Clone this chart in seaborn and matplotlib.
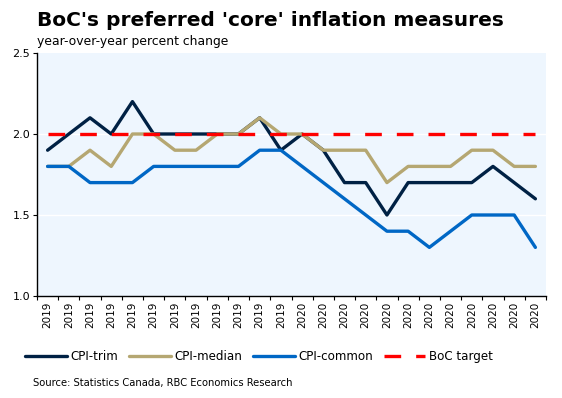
import numpy as np
import pandas as pd
import matplotlib
matplotlib.use("Agg")
import matplotlib.pyplot as plt
import seaborn as sns

tick_labels = ["2019"] * 12 + ["2020"] * 12
cpi_trim = [1.9, 2.0, 2.1, 2.0, 2.2, 2.0, 2.0, 2.0, 2.0, 2.0, 2.1, 1.9,
            2.0, 1.9, 1.7, 1.7, 1.5, 1.7, 1.7, 1.7, 1.7, 1.8, 1.7, 1.6]
cpi_median = [1.8, 1.8, 1.9, 1.8, 2.0, 2.0, 1.9, 1.9, 2.0, 2.0, 2.1, 2.0,
              2.0, 1.9, 1.9, 1.9, 1.7, 1.8, 1.8, 1.8, 1.9, 1.9, 1.8, 1.8]
cpi_common = [1.8, 1.8, 1.7, 1.7, 1.7, 1.8, 1.8, 1.8, 1.8, 1.8, 1.9, 1.9,
              1.8, 1.7, 1.6, 1.5, 1.4, 1.4, 1.3, 1.4, 1.5, 1.5, 1.5, 1.3]
boc_target = [2.0] * 24

sns.set_theme(style="white")
plt.rcParams['font.family'] = ['DejaVu Sans']
plt.rcParams['text.color'] = 'black'
plt.rcParams['xtick.color'] = 'black'
plt.rcParams['ytick.color'] = 'black'

fig = plt.figure(figsize=(5.62, 3.98), dpi=100)
ax = fig.add_axes([37/562, 1-296/398, (546-37)/562, (296-53)/398])
ax.set_facecolor("#EEF6FE")

x = np.arange(len(tick_labels))
df = pd.DataFrame({"x": x, "CPI-trim": cpi_trim, "CPI-median": cpi_median,
                   "CPI-common": cpi_common, "BoC target": boc_target})

for y in [1.5, 2.0]:
    ax.axhline(y, color="white", lw=1.0, zorder=1)

sns.lineplot(data=df, x="x", y="CPI-trim", ax=ax, color="#002144", lw=2.4,
             label="CPI-trim", zorder=3)
sns.lineplot(data=df, x="x", y="CPI-median", ax=ax, color="#B5A772", lw=2.4,
             label="CPI-median", zorder=3)
sns.lineplot(data=df, x="x", y="CPI-common", ax=ax, color="#0067C5", lw=2.4,
             label="CPI-common", zorder=3)
sns.lineplot(data=df, x="x", y="BoC target", ax=ax, color="#FF0000", lw=2.4,
             label="BoC target", zorder=4, dashes=False)
ax.lines[-1].set_dashes((5, 4.5))

ax.set_xlim(-0.5, len(x) - 0.5)
ax.set_ylim(1.0, 2.5)
ax.set_yticks([1.0, 1.5, 2.0, 2.5])
ax.set_yticklabels(["1.0", "1.5", "2.0", "2.5"], fontsize=8)
ax.set_xticks(x)
ax.set_xticklabels(tick_labels, rotation=90, fontsize=7.5)
ax.set_xticks(np.arange(-0.5, len(x)), minor=True)
ax.tick_params(axis="x", which="major", length=0, pad=4)
ax.tick_params(axis="x", which="minor", length=3, width=0.8, color="black", bottom=True)
ax.tick_params(axis="y", length=3, width=0.8, color="black", left=True, pad=2)
ax.set_xlabel("")
ax.set_ylabel("")
for s in ["top", "right"]:
    ax.spines[s].set_visible(False)
for s in ["left", "bottom"]:
    ax.spines[s].set_color("black")
    ax.spines[s].set_linewidth(1.0)

leg = ax.legend(loc="upper left", bbox_to_anchor=(-0.045, -0.18), ncol=4, frameon=False,
                fontsize=8.6, handlelength=3.5, handletextpad=0.3, columnspacing=0.9)
for t in leg.get_texts():
    t.set_color("black")

fig.text(37/562, 1-20/398, "BoC's preferred 'core' inflation measures",
         fontsize=14.5, fontweight="bold", va="center", ha="left")
fig.text(37/562, 1-41/398, "year-over-year percent change",
         fontsize=8.9, va="center", ha="left")
fig.text(33/562, 1-383/398, "Source: Statistics Canada, RBC Economics Research",
         fontsize=7.2, va="center", ha="left")

fig.savefig("out.png", dpi=100)
